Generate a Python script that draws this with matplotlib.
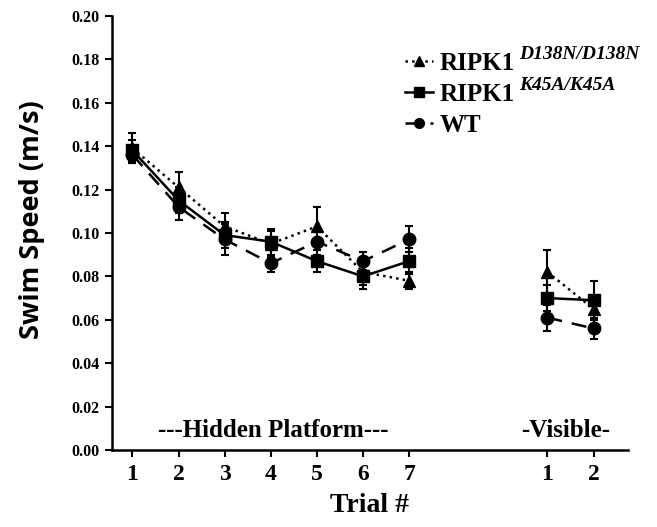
import numpy as np
import matplotlib
matplotlib.use("Agg")
import matplotlib.pyplot as plt
from matplotlib.lines import Line2D
from matplotlib.transforms import offset_copy

plt.rcParams['font.family'] = 'Liberation Serif'
plt.rcParams['font.weight'] = 'bold'

# trial positions: hidden platform 1-7, visible 1-2 (placed after a gap)
hidden_x = [1, 2, 3, 4, 5, 6, 7]
visible_x = [10, 11]
tick_labels = ['1', '2', '3', '4', '5', '6', '7', '1', '2']

# swim speed (m/s)
d138n_hidden = [0.139, 0.121, 0.103, 0.095, 0.103, 0.082, 0.078]
d138n_hidden_err = [0.007, 0.007, 0.006, 0.006, 0.009, 0.006, 0.004]
d138n_visible = [0.082, 0.065]
d138n_visible_err = [0.010, 0.005]

k45a_hidden = [0.138, 0.115, 0.099, 0.096, 0.087, 0.080, 0.087]
k45a_hidden_err = [0.005, 0.006, 0.006, 0.006, 0.005, 0.006, 0.006]
k45a_visible = [0.070, 0.069]
k45a_visible_err = [0.006, 0.009]

wt_hidden = [0.136, 0.112, 0.097, 0.086, 0.096, 0.087, 0.097]
wt_hidden_err = [0.004, 0.006, 0.007, 0.004, 0.006, 0.004, 0.006]
wt_visible = [0.061, 0.056]
wt_visible_err = [0.006, 0.005]

names = ['RIPK1', 'RIPK1', 'WT']
supers = ['D138N/D138N', 'K45A/K45A', '']
markers = ['^', 's', 'o']
styles = [':', '-', (0, (6, 4))]
hidden_vals = [d138n_hidden, k45a_hidden, wt_hidden]
hidden_errs = [d138n_hidden_err, k45a_hidden_err, wt_hidden_err]
visible_vals = [d138n_visible, k45a_visible, wt_visible]
visible_errs = [d138n_visible_err, k45a_visible_err, wt_visible_err]

fig = plt.figure(figsize=(6.57, 5.27), dpi=100)
ax = fig.add_axes([0.170, 0.146, 0.786, 0.824])

handles = []
for i in range(3):
    kw = dict(color='black', marker=markers[i], markersize=9, linestyle=styles[i],
              linewidth=1.8, elinewidth=1.5, capsize=3, capthick=1.5)
    ax.errorbar(hidden_x, hidden_vals[i], yerr=hidden_errs[i], **kw)
    ax.errorbar(visible_x, visible_vals[i], yerr=visible_errs[i], **kw)
    handles.append(Line2D([], [], color='black', marker=markers[i], markersize=7,
                          linestyle=styles[i], linewidth=1.8))

ax.set_xlim(0.55, 11.75)
ax.set_ylim(0, 0.20)
ax.set_xticks(hidden_x + visible_x)
ax.set_xticklabels(tick_labels, fontsize=17, fontweight='bold')
yt = np.arange(0, 0.201, 0.02)
ax.set_yticks(yt)
ax.set_yticklabels(['%.2f' % v for v in yt], fontsize=11.5, fontweight='bold')
ax.tick_params(axis='both', direction='out', length=5, width=1.5)
ax.tick_params(axis='x', pad=5)
for side in ['top', 'right']:
    ax.spines[side].set_visible(False)
for side in ['left', 'bottom']:
    ax.spines[side].set_linewidth(1.8)

ax.set_xlabel('Trial #', fontsize=20, fontweight='bold', labelpad=6)
ax.set_ylabel('Swim Speed (m/s)', fontsize=19.5, fontweight='bold', family='Open Sans')
ax.yaxis.set_label_coords(-0.13, 0.53)

ax.text(4.05, 0.009, '---Hidden Platform---', fontsize=18, fontweight='bold', ha='center', va='center')
ax.text(10.4, 0.009, '-Visible-', fontsize=18, fontweight='bold', ha='center', va='center')

leg = ax.legend(handles, names, loc='upper left', bbox_to_anchor=(0.568, 0.917), frameon=False,
                fontsize=18, handlelength=1.1, handletextpad=0.3, labelspacing=0.32,
                borderaxespad=0, borderpad=0)

# superscript genotypes after the legend labels
fig.canvas.draw()
renderer = fig.canvas.get_renderer()
for txt, sup in zip(leg.get_texts(), supers):
    if not sup:
        continue
    bb = txt.get_window_extent(renderer)
    tr = offset_copy(fig.transFigure, fig=fig, x=4, y=12, units='dots')
    fig.text(bb.x1 / fig.bbox.width, bb.y0 / fig.bbox.height, sup, transform=tr,
             fontsize=14, fontweight='bold', fontstyle='italic', ha='left', va='bottom')

fig.savefig('out.png', dpi=100)
